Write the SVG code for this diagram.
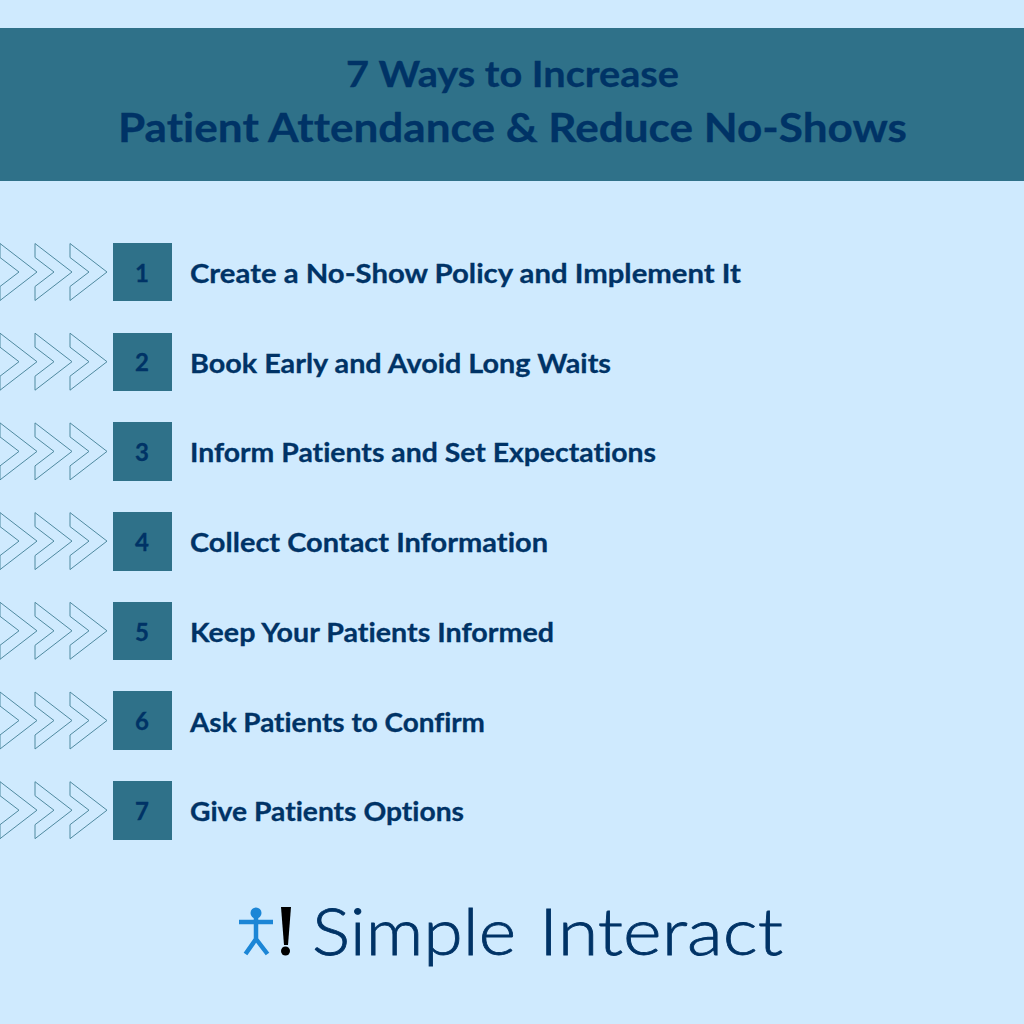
<svg xmlns="http://www.w3.org/2000/svg" width="1024" height="1024" viewBox="0 0 1024 1024">
<style>
text{font-family:"Lato","Liberation Sans",sans-serif;font-weight:700;fill:#003366;font-variant-ligatures:none;stroke:#003366;stroke-width:.3px}
.t{font-size:26.500px}
.n{font-size:24px;text-anchor:middle}
.sq{fill:#2f7189}
.c{fill:none;stroke:#4f8aa0;stroke-width:1}
.l{font-size:66px;font-weight:300;stroke-width:.8px}
</style>
<defs>
<g id="chev"><path class="c" d="M0 0L37 28.500L0 57V43L19 28.500L0 14Z"/></g>
<g id="chevs"><use href="#chev"/><use href="#chev" x="35"/><use href="#chev" x="70"/></g>
</defs>
<rect width="1024" height="1024" fill="#cfeafe"/>
<g id="header">
<rect y="28" width="1024" height="153" fill="#2f7189"/>
<text x="346" y="87" font-size="36" textLength="333" lengthAdjust="spacingAndGlyphs">7 Ways to Increase</text>
<text x="118" y="142" font-size="40" textLength="789" lengthAdjust="spacingAndGlyphs">Patient Attendance &amp; Reduce No-Shows</text>
</g>
<g id="item1"><use href="#chevs" y="243.500"/><rect class="sq" x="113" y="243" width="59" height="58"/><text class="n" x="142" y="282">1</text><text class="t" x="190" y="283" textLength="551" lengthAdjust="spacingAndGlyphs">Create a No-Show Policy and Implement It</text></g>
<g id="item2"><use href="#chevs" y="333.200"/><rect class="sq" x="113" y="333" width="59" height="58"/><text class="n" x="142" y="371">2</text><text class="t" x="190" y="373" textLength="421" lengthAdjust="spacingAndGlyphs">Book Early and Avoid Long Waits</text></g>
<g id="item3"><use href="#chevs" y="422.900"/><rect class="sq" x="113" y="422" width="59" height="59"/><text class="n" x="142" y="461">3</text><text class="t" x="190" y="462" textLength="466" lengthAdjust="spacingAndGlyphs">Inform Patients and Set Expectations</text></g>
<g id="item4"><use href="#chevs" y="512.600"/><rect class="sq" x="113" y="512" width="59" height="59"/><text class="n" x="142" y="551">4</text><text class="t" x="190" y="552" textLength="358" lengthAdjust="spacingAndGlyphs">Collect Contact Information</text></g>
<g id="item5"><use href="#chevs" y="602.300"/><rect class="sq" x="113" y="602" width="59" height="58"/><text class="n" x="142" y="641">5</text><text class="t" x="190" y="642" textLength="364" lengthAdjust="spacingAndGlyphs">Keep Your Patients Informed</text></g>
<g id="item6"><use href="#chevs" y="692"/><rect class="sq" x="113" y="691" width="59" height="59"/><text class="n" x="142" y="730">6</text><text class="t" x="190" y="732" textLength="295" lengthAdjust="spacingAndGlyphs">Ask Patients to Confirm</text></g>
<g id="item7"><use href="#chevs" y="781.700"/><rect class="sq" x="113" y="781" width="59" height="59"/><text class="n" x="142" y="820">7</text><text class="t" x="190" y="821" textLength="274" lengthAdjust="spacingAndGlyphs">Give Patients Options</text></g>
<g id="logo">
<circle cx="256" cy="913" r="5.500" fill="#1c86d6"/>
<path d="M239 922H273M256 918V939M256 939L245.500 954M256 939L267.500 954" fill="none" stroke="#1c86d6" stroke-width="4.500"/>
<path d="M281 907H291L288 945H284Z" fill="#000"/><circle cx="285.500" cy="951" r="4.500" fill="#000"/>
<text class="l" x="312" y="955" textLength="204" lengthAdjust="spacingAndGlyphs">Simple</text>
<text class="l" x="539" y="955" textLength="244" lengthAdjust="spacingAndGlyphs">Interact</text>
</g>
</svg>
